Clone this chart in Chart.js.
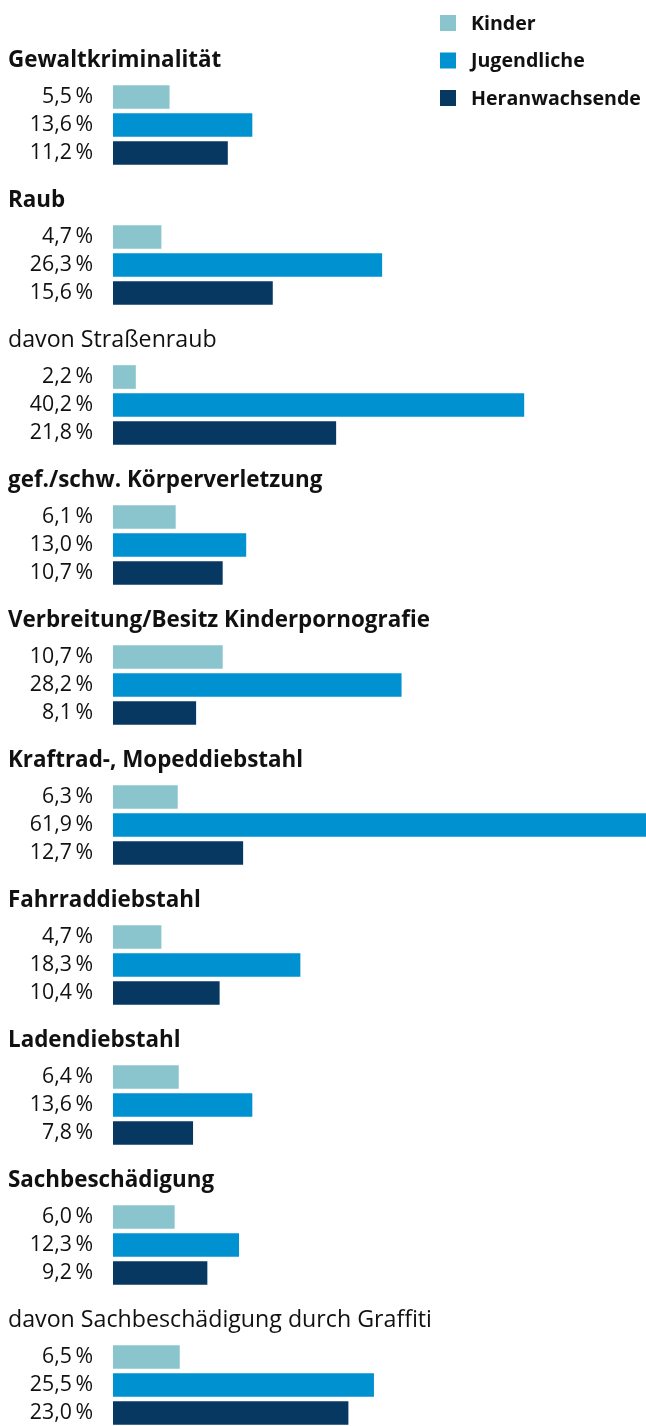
<!DOCTYPE html>
<html lang="de">
<head>
<meta charset="utf-8">
<title>Tatverdächtige nach Altersgruppen</title>
<script src="https://cdn.jsdelivr.net/npm/chart.js@4.4.4/dist/chart.umd.min.js"></script>
<style>
  html, body { margin: 0; padding: 0; background: #fff; overflow: hidden; }
  #wrap { position: relative; width: 646px; height: 1427px; }
</style>
</head>
<body>
<div id="wrap"><canvas id="chart"></canvas></div>
<script>
// ─── Data ────────────────────────────────────────────────────────────────────
const categories = [
  'Gewaltkriminalität',
  'Raub',
  'davon Straßenraub',
  'gef./schw. Körperverletzung',
  'Verbreitung/Besitz Kinderpornografie',
  'Kraftrad-, Mopeddiebstahl',
  'Fahrraddiebstahl',
  'Ladendiebstahl',
  'Sachbeschädigung',
  'davon Sachbeschädigung durch Graffiti',
];
const seriesNames    = ['Kinder', 'Jugendliche', 'Heranwachsende'];
const kinder         = [5.5, 4.7, 2.2, 6.1, 10.7, 6.3, 4.7, 6.4, 6.0, 6.5];
const jugendliche    = [13.6, 26.3, 40.2, 13.0, 28.2, 61.9, 18.3, 13.6, 12.3, 25.5];
const heranwachsende = [11.2, 15.6, 21.8, 10.7, 8.1, 12.7, 10.4, 7.8, 9.2, 23.0];

const colors = ['#8ac4cc', '#0091d0', '#063862'];
const FONT = "'Open Sans', sans-serif";

// ─── Row layout: title row, three bars, spacer (last group has no spacer) ────
const ROWS_PER_GROUP = 5;
const series = [kinder, jugendliche, heranwachsende];
const rowCount = categories.length * ROWS_PER_GROUP - 1;

const fmt = v => v.toFixed(1).replace('.', ',') + '\u2009%';

const labels = [];
const rowData = series.map(() => []);
for (let r = 0; r < rowCount; r++) {
  const g = Math.floor(r / ROWS_PER_GROUP);
  const k = r % ROWS_PER_GROUP - 1;          // -1 = title row, 3 = spacer
  const isBar = k >= 0 && k < 3;
  labels.push(isBar ? fmt(series[k][g]) : '');
  series.forEach((s, i) => rowData[i].push(isBar && i === k ? s[g] : null));
}

// ─── Plugin: group titles + legend ──────────────────────────────────────────
const groupTitles = {
  id: 'groupTitles',
  afterDraw(chart) {
    const { ctx } = chart;
    const y = chart.scales.y;
    ctx.save();
    ctx.fillStyle = '#111';
    ctx.textAlign = 'left';
    ctx.textBaseline = 'alphabetic';
    categories.forEach((name, g) => {
      const first = y.getPixelForValue(g * ROWS_PER_GROUP + 1);
      const sub = name.startsWith('davon ');
      ctx.font = sub ? `400 23.2px ${FONT}` : `700 22.4px ${FONT}`;
      ctx.fillText(name, 8, first - 30);
    });

    // legend, stacked top right
    ctx.font = `700 19.6px ${FONT}`;
    ctx.textBaseline = 'middle';
    chart.data.datasets.forEach((ds, i) => {
      const cy = 23 + i * 37.5;
      ctx.fillStyle = ds.backgroundColor;
      ctx.fillRect(440, cy - 8, 16, 16);
      ctx.fillStyle = '#111';
      ctx.fillText(ds.label, 471, cy + 1);
    });
    ctx.restore();
  },
};

// ─── Chart ───────────────────────────────────────────────────────────────────
Chart.defaults.font.family = FONT;
Chart.defaults.color = '#111';
Chart.defaults.animation = false;

new Chart(document.getElementById('chart'), {
  type: 'bar',
  data: {
    labels,
    datasets: seriesNames.map((name, i) => ({
      label: name,
      data: rowData[i],
      backgroundColor: colors[i],
      borderWidth: 0,
      barThickness: 23,
      grouped: false,
    })),
  },
  options: {
    indexAxis: 'y',
    responsive: true,
    maintainAspectRatio: false,
    layout: { padding: { top: 55, right: 0, bottom: 0, left: 0 } },
    scales: {
      x: {
        display: false,
        min: 0,
        max: 52.15,        // longest bar (61,9 %) runs off the right edge
      },
      y: {
        grid: { display: false, drawTicks: false },
        border: { display: false },
        ticks: {
          autoSkip: false,
          padding: 20,
          font: { size: 21.3 },
          color: '#111',
        },
        afterFit(scale) {
          scale.width = 113;
          // tick padding would otherwise also eat space above/below the rows
          scale.paddingTop = 0;
          scale.paddingBottom = 0;
        },
      },
    },
    plugins: {
      legend: { display: false },
      tooltip: { enabled: false },
    },
  },
  plugins: [groupTitles],
});
</script>
</body>
</html>
